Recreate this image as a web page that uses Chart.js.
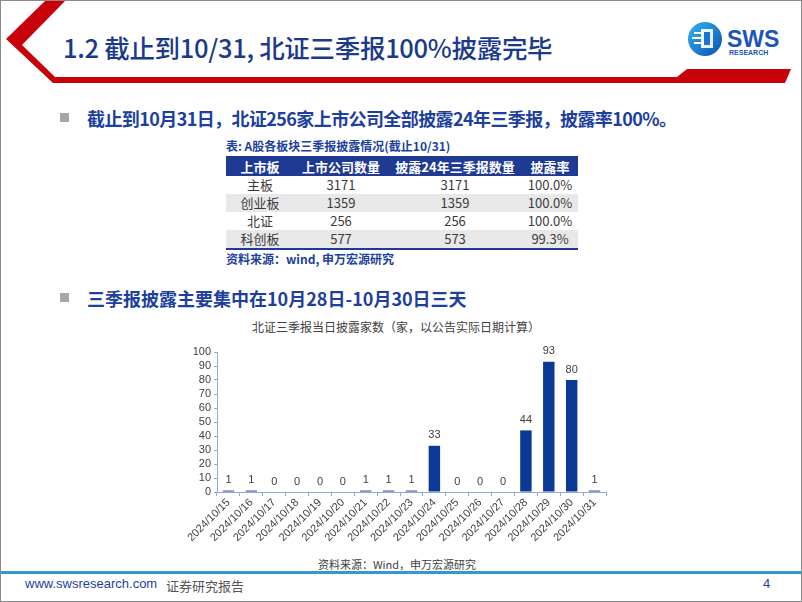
<!DOCTYPE html>
<html>
<head>
<meta charset="utf-8">
<script src="https://cdn.jsdelivr.net/npm/chart.js@4/dist/chart.umd.min.js"></script>
<style>
  body { margin: 0; background: #fff; font-family: "Noto Sans CJK SC", "Liberation Sans", sans-serif; }
  #slide { position: relative; width: 800px; height: 600px; border: 1px solid #8a8a8a; overflow: hidden; background: #fff; }
  .abs { position: absolute; white-space: nowrap; }
  #title { left: 62px; top: 27px; font-size: 25.5px; color: #1b3a8c; font-weight: 500; letter-spacing: -0.3px; }
  .bullet { width: 9px; height: 9px; background: #a6a6a6; }
  .btext { font-size: 18px; font-weight: bold; color: #1d3f9e; }
  #caption { left: 225px; top: 136px; font-size: 12px; font-weight: bold; color: #1d3f9e; }
  table { position: absolute; left: 225px; top: 155px; width: 352px; border-collapse: collapse; font-size: 13px; color: #3a3a3a; }
  th { background: #1f3a93; color: #fff; height: 20px; padding: 0; font-weight: bold; }
  td { height: 18px; padding: 0; text-align: center; line-height: 18px; }
  tr.alt td { background: #e8e8e8; }
  tbody tr:last-child td { border-bottom: 2px solid #1f3a93; }
  #src1 { left: 225px; top: 249px; font-size: 12px; font-weight: bold; color: #1d3f9e; }
  #ctitle { left: 395px; top: 317px; transform: translateX(-50%); font-size: 12px; color: #404040; }
  #src2 { left: 396px; top: 555px; transform: translateX(-50%); font-size: 11px; color: #404040; }
  #chartBox { position: absolute; left: 170px; top: 330px; width: 450px; height: 220px; }
  #footline { left: 0; top: 570px; width: 800px; height: 3px; background: #2e9bcb; }
  #url { left: 24px; top: 575px; font-size: 13px; color: #1d3f9e; font-family: "Liberation Sans", sans-serif; }
  #rep { left: 165px; top: 575px; font-size: 13px; color: #555; }
  #page { left: 762px; top: 575px; font-size: 13px; color: #1d3f9e; font-family: "Liberation Sans", sans-serif; }
</style>
</head>
<body>
<div id="slide">
  <svg class="abs" style="left:0;top:0" width="800" height="90">
    <polygon points="44,0 64,0 21,44 54,76 676,76 686,68 790,68 784,82 52,82 5,38" fill="#c8000a"/>
    <defs>
      <linearGradient id="lg" x1="0" y1="0" x2="1" y2="1">
        <stop offset="0" stop-color="#34b4ef"/>
        <stop offset="1" stop-color="#0d4fb0"/>
      </linearGradient>
    </defs>
    <circle cx="704" cy="38" r="17" fill="url(#lg)"/>
    <rect x="693" y="31" width="13" height="2" fill="#fff"/>
    <rect x="691" y="36" width="15" height="2" fill="#fff"/>
    <rect x="693" y="41" width="13" height="2" fill="#fff"/>
    <rect x="700" y="28" width="12" height="19" fill="#fff" opacity="0.9"/>
    <rect x="703" y="31" width="6" height="13" fill="#1a73cf"/>
    <text x="726" y="46" font-family="Liberation Sans, sans-serif" font-weight="bold" font-size="23" fill="#1d55b6">SWS</text>
    <text x="728" y="54" font-family="Liberation Sans, sans-serif" font-weight="bold" font-size="7" fill="#1d55b6">RESEARCH</text>
  </svg>
  <div id="title" class="abs">1.2 截止到10/31, 北证三季报100%披露完毕</div>

  <div class="abs bullet" style="left:59px;top:112px"></div>
  <div class="abs btext" style="left:86px;top:104px;letter-spacing:-0.6px">截止到10月31日，北证256家上市公司全部披露24年三季报，披露率100%。</div>

  <div id="caption" class="abs">表: A股各板块三季报披露情况(截止10/31)</div>
  <table id="tbl">
    <thead><tr><th style="width:68px">上市板</th><th style="width:94px">上市公司数量</th><th style="width:134px">披露24年三季报数量</th><th>披露率</th></tr></thead>
    <tbody></tbody>
  </table>
  <div id="src1" class="abs">资料来源：wind, 申万宏源研究</div>

  <div class="abs bullet" style="left:59px;top:292px"></div>
  <div class="abs btext" style="left:86px;top:284px">三季报披露主要集中在10月28日-10月30日三天</div>

  <div id="ctitle" class="abs">北证三季报当日披露家数（家，以公告实际日期计算）</div>
  <div id="chartBox"><canvas id="bjChart"></canvas></div>
  <div id="src2" class="abs">资料来源：Wind，申万宏源研究</div>

  <div id="footline" class="abs"></div>
  <div id="url" class="abs">www.swsresearch.com</div>
  <div id="rep" class="abs">证券研究报告</div>
  <div id="page" class="abs">4</div>
</div>

<script>
// table data
const boards = ['主板', '创业板', '北证', '科创板'];
const listedCounts = [3171, 1359, 256, 577];
const disclosedCounts = [3171, 1359, 256, 573];
const disclosureRates = ['100.0%', '100.0%', '100.0%', '99.3%'];

// chart data
const dates = ['2024/10/15', '2024/10/16', '2024/10/17', '2024/10/18', '2024/10/19', '2024/10/20',
    '2024/10/21', '2024/10/22', '2024/10/23', '2024/10/24', '2024/10/25', '2024/10/26',
    '2024/10/27', '2024/10/28', '2024/10/29', '2024/10/30', '2024/10/31'];
const dailyCounts = [1, 1, 0, 0, 0, 0, 1, 1, 1, 33, 0, 0, 0, 44, 93, 80, 1];
const yMin = 0, yMax = 100, yStep = 10;

const tbody = document.querySelector('#tbl tbody');
boards.forEach(function(b, i) {
    const tr = document.createElement('tr');
    if (i % 2 === 1) tr.className = 'alt';
    [b, listedCounts[i], disclosedCounts[i], disclosureRates[i]].forEach(function(v) {
        const td = document.createElement('td');
        td.textContent = v;
        tr.appendChild(td);
    });
    tbody.appendChild(tr);
});

const axisColor = '#8fa9dc';
const labelColor = '#404040';

// value labels above bars
const barLabels = {
    id: 'barLabels',
    afterDatasetsDraw(chart) {
        const ctx = chart.ctx;
        const meta = chart.getDatasetMeta(0);
        ctx.save();
        ctx.font = '11px "Liberation Sans", Arial, sans-serif';
        ctx.fillStyle = labelColor;
        ctx.textAlign = 'center';
        ctx.textBaseline = 'bottom';
        meta.data.forEach(function(bar, i) {
            ctx.fillText(String(dailyCounts[i]), bar.x, bar.y - 5);
        });
        ctx.restore();
    }
};

const ctx = document.getElementById('bjChart').getContext('2d');
new Chart(ctx, {
    type: 'bar',
    data: {
        labels: dates,
        datasets: [{
            data: dailyCounts,
            backgroundColor: '#0b3996',
            categoryPercentage: 1.0,
            barPercentage: 0.5
        }]
    },
    options: {
        responsive: true,
        maintainAspectRatio: false,
        animation: false,
        layout: { padding: { top: 21, right: 15, left: 0, bottom: 0 } },
        plugins: {
            legend: { display: false },
            tooltip: { enabled: false }
        },
        scales: {
            x: {
                grid: { drawOnChartArea: false, drawTicks: true, tickLength: 4, color: axisColor },
                border: { color: axisColor, width: 1 },
                ticks: {
                    color: labelColor,
                    font: { family: '"Liberation Sans", Arial, sans-serif', size: 11 },
                    maxRotation: 45,
                    minRotation: 45,
                    autoSkip: false,
                    padding: 0
                },
                afterFit: function(scale) { scale.height = 59; }
            },
            y: {
                min: yMin,
                max: yMax,
                grid: { drawOnChartArea: false, drawTicks: true, tickLength: 3, color: axisColor },
                border: { color: axisColor, width: 1 },
                ticks: {
                    stepSize: yStep,
                    autoSkip: false,
                    color: labelColor,
                    font: { family: '"Liberation Sans", Arial, sans-serif', size: 11 },
                    padding: 3
                },
                afterFit: function(scale) { scale.width = 46; }
            }
        }
    },
    plugins: [barLabels]
});
</script>
</body>
</html>
